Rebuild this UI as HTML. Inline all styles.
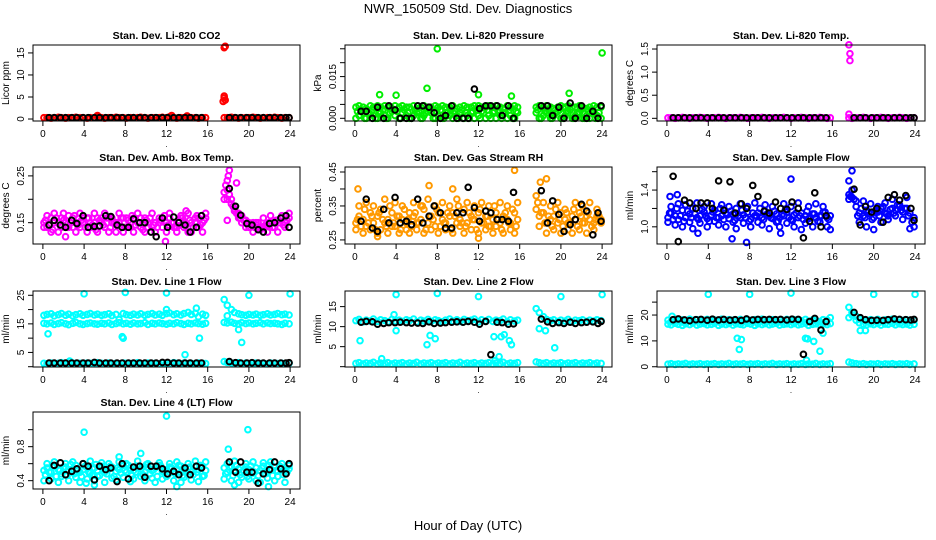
<!DOCTYPE html>
<html><head><meta charset="utf-8"><title>NWR_150509 Std. Dev. Diagnostics</title>
<style>
html,body{margin:0;padding:0;background:#fff;}
svg{display:block;font-family:"Liberation Sans",Arial,sans-serif;}
</style></head>
<body>
<svg id="chart" width="936" height="540" viewBox="0 0 936 540" xmlns="http://www.w3.org/2000/svg">
<rect x="0" y="0" width="936" height="540" fill="#fff"/>
<text x="468" y="13" font-size="13" text-anchor="middle">NWR_150509  Std. Dev. Diagnostics</text>
<text x="468" y="530" font-size="13" text-anchor="middle">Hour of Day (UTC)</text>
</svg>
<script>
// shared time arrays (hours, UTC)
const hours = [0.1,0.4,0.8,1.1,1.5,1.8,2.2,2.5,2.9,3.2,3.6,3.9,4.3,4.6,5.0,5.3,5.7,6.0,6.4,6.7,7.1,7.4,7.8,8.1,8.5,8.8,9.2,9.5,9.9,10.2,10.6,10.9,11.3,11.6,12.0,12.3,12.7,13.0,13.4,13.7,14.1,14.4,14.8,15.1,15.5,15.8,
  17.6,17.9,18.3,18.6,19.0,19.3,19.7,20.0,20.4,20.7,21.1,21.4,21.8,22.1,22.5,22.8,23.2,23.5,23.9];
const hours2 = [0.25,0.6,0.95,1.3,1.65,2.0,2.35,2.7,3.05,3.4,3.75,4.1,4.45,4.8,5.15,5.5,5.85,6.2,6.55,6.9,7.25,7.6,7.95,8.3,8.65,9.0,9.35,9.7,10.05,10.4,10.75,11.1,11.45,11.8,12.15,12.5,12.85,13.2,13.55,13.9,14.25,14.6,14.95,15.3,15.65,
  17.75,18.1,18.45,18.8,19.15,19.5,19.85,20.2,20.55,20.9,21.25,21.6,21.95,22.3,22.65,23.0,23.35,23.7];
const blackHours = [0.6,1.1,1.7,2.2,2.8,3.3,3.9,4.4,5.0,5.5,6.1,6.6,7.2,7.7,8.3,8.8,9.4,9.9,10.5,11.0,11.6,12.1,12.7,13.2,13.8,14.3,14.9,15.4,
  18.1,18.7,19.2,19.8,20.3,20.9,21.4,22.0,22.5,23.1,23.6,23.9];
const xTicks = [0,4,8,12,16,20,24];

// Panel 1: CO2
const co2A = [0.3,0.3,0.2,0.3,0.4,0.3,0.2,0.3,0.3,0.4,0.3,0.3,0.2,0.3,0.3,0.5,0.3,0.2,0.3,0.3,0.4,0.3,0.3,0.2,0.3,0.3,0.3,0.4,0.3,0.2,0.3,0.3,0.3,0.4,0.3,0.5,0.3,0.2,0.3,0.3,0.4,0.3,0.3,0.2,0.3,0.3,
  0.3,0.3,0.4,0.3,0.2,0.3,0.3,0.3,0.4,0.3,0.2,0.3,0.3,0.3,0.4,0.3,0.2,0.3,0.3];
const co2Black = [0.3,0.3,0.3,0.3,0.3,0.3,0.3,0.3,0.3,0.3,0.3,0.3,0.3,0.3,0.3,0.3,0.3,0.3,0.3,0.3,0.3,0.3,0.3,0.3,0.3,0.3,0.3,0.3,0.3,0.3,0.3,0.3,0.3,0.3,0.3,0.3,0.3,0.3,0.3,0.3];
const co2ExtraH = [17.6,17.7,17.6,17.5,17.7,17.6,5.3,12.5,14.0];
const co2ExtraV = [16.2,16.5,5.2,4.0,4.3,4.8,0.8,0.8,0.7];

// Panel 2: Pressure
const presA = [0.004,0.0045,0.004,0.0035,0.0045,0.004,0.0045,0.004,0.0045,0.004,0.0035,0.0045,0.004,0.0045,0.004,0.004,0.0045,0.0035,0.004,0.0045,0.004,0.004,0.0045,0.004,0.0045,0.004,0.004,0.0045,0.0035,0.004,0.0045,0.004,0.004,0.0045,0.0045,0.004,0.004,0.0045,0.004,0.0045,0.004,0.0035,0.0045,0.004,0.0045,0.004,
  0.004,0.0045,0.004,0.0045,0.004,0.0035,0.004,0.0045,0.004,0.0045,0.004,0.004,0.0045,0.004,0.0035,0.004,0.0045,0.004,0.004];
const presB = [0.0,0.001,0.002,0.0,0.0015,0.001,0.0,0.002,0.001,0.0,0.0025,0.001,0.0,0.002,0.001,0.0,0.001,0.002,0.0,0.001,0.0025,0.002,0.0,0.001,0.0,0.002,0.001,0.0,0.001,0.002,0.0,0.001,0.002,0.0,0.001,0.0025,0.0,0.001,0.002,0.0,0.001,0.002,0.0,0.001,0.0,0.002,
  0.002,0.0,0.001,0.002,0.0,0.001,0.0025,0.0,0.001,0.002,0.0,0.001,0.002,0.0,0.001,0.0,0.002,0.001,0.0];
const presC = [0.0025,0.003,0.0,0.002,0.003,0.0,0.0025,0.003,0.0,0.002,0.003,0.0025,0.0,0.003,0.002,0.0,0.003,0.0025,0.0,0.002,0.003,0.0,0.0025,0.003,0.0,0.002,0.003,0.0025,0.0,0.003,0.002,0.0,0.0025,0.003,0.0,0.002,0.003,0.0,0.0025,0.003,0.0,0.002,0.003,0.0,0.0025,
  0.003,0.0,0.0025,0.003,0.0,0.002,0.003,0.0,0.0025,0.003,0.0,0.002,0.003,0.0,0.0025,0.003,0.0,0.002];
const presBlack = [0.0025,0.0025,0.0,0.004,0.0,0.0045,0.003,0.0,0.0,0.0,0.0045,0.0045,0.004,0.002,0.0,0.001,0.0045,0.0,0.0,0.0,0.0105,0.0035,0.0045,0.0045,0.0045,0.001,0.0045,0.0,
  0.0045,0.0045,0.001,0.004,0.0,0.0055,0.0,0.0045,0.0,0.0025,0.0,0.0045];
const presExtraH = [8.0,24.0,7.0,2.4,4.0,12.0,15.2,20.8];
const presExtraV = [0.025,0.0235,0.0108,0.0085,0.0083,0.0085,0.008,0.009];

// Panel 3: Temp
const tempA = [0.01,0.01,0.0,0.01,0.02,0.01,0.0,0.01,0.01,0.02,0.01,0.0,0.01,0.01,0.02,0.01,0.0,0.01,0.01,0.01,0.02,0.01,0.0,0.01,0.01,0.01,0.02,0.01,0.0,0.01,0.01,0.01,0.02,0.01,0.0,0.01,0.01,0.02,0.01,0.0,0.01,0.01,0.02,0.01,0.0,0.01,
  0.01,0.0,0.01,0.01,0.02,0.01,0.0,0.01,0.01,0.02,0.01,0.0,0.01,0.01,0.02,0.01,0.0,0.01,0.01];
const tempBlack = [0.01,0.01,0.01,0.01,0.01,0.01,0.01,0.01,0.01,0.01,0.01,0.01,0.01,0.01,0.01,0.01,0.01,0.01,0.01,0.01,0.01,0.01,0.01,0.01,0.01,0.01,0.01,0.01,0.01,0.01,0.01,0.01,0.01,0.01,0.01,0.01,0.01,0.01,0.01,0.01];
const tempExtraH = [17.6,17.7,17.7,17.6];
const tempExtraV = [1.59,1.4,1.25,0.09];

// Panel 4: Amb Box Temp
const ambA = [0.15,0.14,0.16,0.15,0.13,0.16,0.15,0.14,0.16,0.15,0.14,0.15,0.16,0.14,0.15,0.16,0.15,0.14,0.16,0.15,0.13,0.15,0.16,0.14,0.15,0.16,0.15,0.14,0.16,0.15,0.14,0.15,0.16,0.14,0.15,0.16,0.15,0.14,0.16,0.15,0.13,0.15,0.16,0.14,0.15,0.16,
  0.215,0.2,0.19,0.18,0.17,0.165,0.155,0.15,0.15,0.145,0.14,0.14,0.145,0.15,0.15,0.155,0.16,0.15,0.16];
const ambB = [0.14,0.165,0.13,0.17,0.15,0.14,0.12,0.165,0.14,0.13,0.17,0.16,0.13,0.15,0.17,0.13,0.16,0.17,0.13,0.16,0.15,0.17,0.13,0.16,0.14,0.13,0.17,0.16,0.13,0.14,0.17,0.13,0.15,0.16,0.13,0.17,0.14,0.13,0.165,0.14,0.17,0.13,0.15,0.16,0.13,0.17,
  0.2,0.22,0.2,0.175,0.16,0.15,0.14,0.14,0.13,0.15,0.135,0.16,0.13,0.165,0.14,0.13,0.165,0.14,0.17];
const ambC = [0.155,0.145,0.135,0.16,0.145,0.155,0.14,0.15,0.165,0.145,0.155,0.14,0.16,0.145,0.135,0.155,0.145,0.16,0.14,0.15,0.145,0.16,0.14,0.155,0.165,0.145,0.15,0.135,0.155,0.16,0.145,0.14,0.155,0.165,0.145,0.15,0.14,0.155,0.16,0.145,0.155,0.14,0.165,0.145,0.155,
  0.23,0.21,0.185,0.17,0.16,0.155,0.15,0.145,0.14,0.15,0.14,0.145,0.15,0.14,0.155,0.15,0.145,0.155];
const ambBlack = [0.145,0.155,0.145,0.14,0.155,0.148,0.165,0.14,0.142,0.143,0.165,0.163,0.145,0.14,0.14,0.158,0.15,0.15,0.13,0.12,0.16,0.14,0.162,0.15,0.145,0.13,0.14,0.165,
  0.223,0.185,0.166,0.148,0.145,0.135,0.13,0.148,0.15,0.16,0.165,0.14];
const ambExtraH = [18.1,18.0,17.9,18.8,17.9,13.9,2.0,11.9];
const ambExtraV = [0.262,0.25,0.24,0.235,0.155,0.175,0.17,0.11];

// Panel 5: Gas Stream RH
const rhA = [0.3,0.32,0.31,0.29,0.33,0.3,0.32,0.34,0.3,0.31,0.33,0.29,0.32,0.31,0.3,0.33,0.32,0.3,0.31,0.34,0.3,0.32,0.29,0.33,0.31,0.3,0.32,0.33,0.3,0.31,0.34,0.3,0.32,0.31,0.33,0.3,0.32,0.29,0.31,0.33,0.3,0.32,0.31,0.3,0.33,0.31,
  0.34,0.32,0.33,0.3,0.31,0.32,0.3,0.33,0.31,0.3,0.32,0.31,0.33,0.3,0.32,0.31,0.3,0.32,0.31];
const rhB = [0.28,0.35,0.27,0.36,0.28,0.35,0.27,0.28,0.37,0.27,0.29,0.36,0.27,0.35,0.28,0.27,0.36,0.28,0.35,0.27,0.37,0.28,0.35,0.27,0.36,0.28,0.35,0.27,0.37,0.29,0.27,0.36,0.28,0.35,0.27,0.36,0.28,0.35,0.27,0.29,0.36,0.27,0.35,0.28,0.27,0.36,
  0.38,0.29,0.36,0.27,0.35,0.28,0.36,0.27,0.34,0.28,0.27,0.36,0.28,0.35,0.27,0.36,0.28,0.34,0.3];
const rhC = [0.31,0.29,0.34,0.3,0.32,0.28,0.33,0.31,0.29,0.35,0.3,0.32,0.28,0.34,0.31,0.29,0.33,0.3,0.35,0.28,0.32,0.31,0.34,0.29,0.3,0.33,0.28,0.32,0.35,0.3,0.29,0.33,0.31,0.28,0.34,0.3,0.32,0.29,0.35,0.31,0.28,0.33,0.3,0.34,0.29,
  0.36,0.33,0.3,0.32,0.29,0.34,0.31,0.29,0.33,0.3,0.34,0.29,0.32,0.3,0.33,0.29,0.31,0.32];
const rhBlack = [0.305,0.37,0.285,0.275,0.34,0.3,0.375,0.3,0.305,0.295,0.37,0.3,0.32,0.35,0.33,0.285,0.285,0.33,0.33,0.405,0.345,0.305,0.335,0.33,0.31,0.31,0.305,0.39,
  0.395,0.3,0.365,0.325,0.275,0.295,0.31,0.355,0.335,0.265,0.33,0.305];
const rhExtraH = [15.5,7.2,0.3,18.6,9.5,18.0,12.0,2.2];
const rhExtraV = [0.455,0.41,0.4,0.43,0.4,0.42,0.255,0.26];

// Panel 6: Sample Flow
const flowA = [1.1,1.15,1.12,1.08,1.18,1.1,1.14,1.2,1.1,1.12,1.16,1.09,1.13,1.18,1.1,1.12,1.15,1.09,1.14,1.2,1.1,1.13,1.16,1.08,1.12,1.15,1.1,1.17,1.12,1.09,1.14,1.1,1.12,1.16,1.08,1.13,1.1,1.15,1.12,1.09,1.14,1.1,1.12,1.16,1.1,1.12,
  1.3,1.32,1.28,1.15,1.12,1.18,1.14,1.1,1.16,1.2,1.15,1.12,1.2,1.18,1.22,1.16,1.2,1.15,1.1];
const flowB = [1.05,1.22,1.02,1.25,1.0,1.24,1.05,0.98,1.26,1.04,1.22,1.0,1.25,1.06,1.02,1.24,1.0,1.22,1.05,0.98,1.25,1.04,1.22,1.0,1.26,1.05,1.02,1.24,0.98,1.22,1.05,1.0,1.25,1.04,1.22,1.0,1.26,0.97,1.04,1.22,1.0,1.25,1.05,1.22,1.0,0.97,
  1.35,1.4,1.22,1.05,1.28,1.0,1.25,0.97,1.22,1.05,1.26,1.08,1.3,1.12,1.24,1.08,1.32,0.98,1.0];
const flowC = [1.15,1.08,1.2,1.12,1.06,1.17,1.1,1.14,1.08,1.19,1.12,1.06,1.16,1.1,1.2,1.08,1.13,1.17,1.07,1.12,1.18,1.1,1.06,1.15,1.12,1.2,1.08,1.14,1.1,1.17,1.06,1.13,1.18,1.1,1.07,1.15,1.12,1.08,1.17,1.1,1.14,1.06,1.12,1.16,1.08,
  1.33,1.3,1.12,1.2,1.1,1.16,1.08,1.18,1.12,1.22,1.14,1.19,1.15,1.24,1.18,1.2,1.12,1.05];
const flowBlack = [1.55,0.84,1.29,1.26,1.2,1.26,1.26,1.2,1.5,1.18,1.49,1.15,1.25,1.2,1.45,1.33,1.17,1.15,1.27,1.2,1.19,1.27,1.2,0.88,1.06,1.37,1.0,1.12,
  1.41,1.02,1.22,1.16,1.2,1.05,1.32,1.35,1.29,1.34,1.2,1.07];
const flowExtraH = [17.9,17.6,12.0,7.7,6.3,3.0,11.0,0.3,1.0];
const flowExtraV = [1.61,1.5,1.52,0.83,0.87,0.93,0.93,1.33,1.35];

// Panel 7: Line 1 Flow
const l1A = [18,18.3,18.5,17.8,18.2,18.6,18,18.4,17.8,18.2,18.5,18,18.3,18.6,18.1,18.4,18,18.2,18.5,17.9,18.3,16.5,18.6,18.2,18,18.4,18.1,18.5,18,18.3,18.6,18.1,18.4,18,18.6,18.8,18.2,18.5,18.1,18.6,19,18.3,18.7,17.5,18.4,18,
  23.5,21.5,20,19,18.5,18.2,18,18.3,18.1,18.4,18,18.2,18.5,18.1,18.3,18.6,18.2,18.4,18.1];
const l1B = [15.2,15,15.3,14.8,15.1,15.4,15,14.7,15.2,15.5,15,14.8,15.1,15.3,15,14.9,15.2,15,15.3,14.8,15.1,15.4,15,15.2,14.9,15.3,15,15.1,15.4,14.8,15.2,15,15.3,15.1,14.9,15.2,15,15.4,15.1,14.8,15.2,15,15.3,15.1,14.9,15.2,
  15.5,15.3,15.6,15.2,15,15.4,15.1,15.3,15,15.2,15.4,15,15.3,15.1,15.2,15,14.8,15.2,15];
const l1C = [1.2,1.0,1.3,1.1,1.2,1.4,1.0,1.2,1.3,1.1,1.2,1.0,1.3,1.2,1.1,1.4,1.2,1.0,1.3,1.1,1.2,1.0,1.3,1.2,1.1,1.2,1.4,1.0,1.2,1.3,1.1,1.2,1.0,1.3,1.2,1.1,1.4,1.2,1.0,1.3,1.1,1.2,1.0,1.3,1.2,1.1,
  1.8,1.5,1.3,1.2,1.4,1.1,1.3,1.0,1.2,1.3,1.1,1.2,1.0,1.3,1.2,1.1,1.2,1.0,1.2];
const l1Black = [1.3,1.3,1.3,1.3,1.3,1.3,1.3,1.3,1.5,1.3,1.3,1.3,1.3,1.3,1.3,1.3,1.3,1.3,1.3,1.3,1.5,1.5,1.3,1.3,1.3,1.3,1.3,1.3,
  1.8,1.4,1.3,1.3,1.4,1.3,1.3,1.3,1.3,1.3,1.3,1.4];
const l1ExtraH = [4.0,8.0,12.0,20.0,24.0,0.5,7.7,7.8,15.2,13.8,19.3,19.0,2.6,17.9,12.0,14.9];
const l1ExtraV = [25.5,26,25.8,25,25.5,11.5,10.5,10,10,4.2,8.5,13,2,17.8,20,20.5];

// Panel 8: Line 2 Flow
const l2A = [11.5,11.8,11.2,11.6,11.4,11.9,11.3,11.7,11.5,11.2,11.8,11.4,11.6,11.3,11.7,11.5,11.9,11.2,11.6,11.4,11.8,11.3,11.7,11.5,11.2,11.6,11.9,11.4,11.7,11.3,11.8,11.5,11.6,11.9,11.2,11.7,11.4,11.8,11.3,11.6,11.5,11.9,11.2,11.7,11.4,11.6,
  14.5,13.5,12.5,11.8,11.5,11.7,11.3,11.6,11.4,11.8,11.2,11.6,11.5,11.7,11.3,11.6,11.4,11.7,11.5];
const l2C = [0.8,1.0,0.7,0.9,0.8,1.1,0.7,0.9,0.8,1.0,0.7,0.9,0.8,1.0,0.7,0.9,0.8,1.1,0.7,0.9,0.8,1.0,0.7,0.9,0.8,1.0,0.7,0.9,0.8,1.1,0.7,0.9,0.8,1.0,0.7,0.9,0.8,1.0,0.7,0.9,0.8,1.1,0.7,0.9,0.8,1.0,
  1.2,1.0,0.8,1.0,0.7,0.9,0.8,1.0,0.7,0.9,0.8,1.0,0.7,0.9,0.8,1.0,0.7,0.9,0.8];
const l2Black = [11.1,11.3,11.2,10.6,10.8,11.0,11.0,11.1,11.0,10.9,10.9,10.8,11.2,10.8,10.9,11.0,11.1,11.2,11.1,11.3,11.1,10.6,11.3,3.0,11.1,11.0,10.6,10.7,
  11.9,11.2,10.8,11.0,10.8,11.1,10.8,11.0,11.1,11.2,10.8,11.3];
const l2ExtraH = [4.0,8.0,12.0,20.0,24.0,0.5,4.0,7.0,7.3,7.8,13.5,14.0,14.2,14.5,15.0,15.2,2.6,17.9,18.5,19.4,13.6,3.8];
const l2ExtraV = [18,18.3,17.5,17.5,18,6.5,9,5.5,7.8,7,7.5,2.5,7.5,8,6.5,5.5,2,9.5,9,4.7,1.5,13];

// Panel 9: Line 3 Flow
const l3A = [16.5,16.2,16.8,16.4,16,16.6,16.3,16.9,16.1,16.5,16.7,16.2,16.4,16.8,16,16.5,16.3,16.7,16.1,16.6,16.4,16.2,16.8,16.5,16,16.6,16.3,16.7,16.2,16.5,16.8,16.1,16.4,16.6,16.3,16.7,16.2,16.5,16.8,16,16.4,16.6,16.2,16.5,16.3,16.7,
  23,20,18,17,16.5,16.2,16.6,16.3,16.7,16.1,16.5,16.4,16.8,16.2,16.6,16.3,16.5,16.1,16.4];
const l3B = [18,17.5,18.3,17.8,18.1,17.6,18.4,17.9,18.2,17.7,18,18.3,17.6,18.1,17.9,18.4,17.7,18.2,18,17.8,18.3,17.6,18.1,17.9,18.2,17.7,18.4,18,17.8,18.2,17.6,18.1,17.9,18.3,17.7,18.2,18,17.8,18.3,17.6,18.1,17.9,17.5,18.2,18,19,
  19,21,19.5,18.5,18,17.8,18.2,17.9,18.3,17.7,18.1,18,18.4,17.8,18.2,17.9,18.1,17.8,18];
const l3C = [1.0,1.2,0.9,1.1,1.0,1.3,0.9,1.1,1.0,1.2,0.9,1.1,1.0,1.2,0.9,1.1,1.0,1.3,0.9,1.1,1.0,1.2,0.9,1.1,1.0,1.2,0.9,1.1,1.0,1.3,0.9,1.1,1.0,1.2,0.9,1.1,1.0,1.2,0.9,1.1,1.0,1.3,0.9,1.1,1.0,1.2,
  1.8,1.5,1.2,1.0,1.2,0.9,1.1,1.0,1.2,0.9,1.1,1.0,1.2,0.9,1.1,1.0,1.2,0.9,1.1];
const l3Black = [18.2,18.5,18.1,17.8,18.2,18.3,18.0,18.4,18.1,18.3,18.0,18.2,17.9,18.5,18.1,18.3,18.2,18.3,18.2,18.3,18.1,18.4,18.3,4.8,17.5,18.7,14.2,17.5,
  21.0,19.0,18.2,17.9,18.0,17.9,18.2,18.5,18.3,18.2,18.1,18.3];
const l3ExtraH = [4.0,8.0,12.0,20.0,24.0,6.8,7.0,7.2,13.4,13.6,14.2,14.8,15.1,13.5,18.7,19.2,0.5];
const l3ExtraV = [28,28,28.5,28,28,11,6.7,10.5,11,10.8,9.8,6,13,2.5,14,14,19.5];

// Panel 10: Line 4 (LT) Flow
const l4A = [0.52,0.55,0.5,0.57,0.53,0.48,0.56,0.51,0.54,0.58,0.5,0.53,0.56,0.49,0.55,0.52,0.57,0.5,0.54,0.56,0.51,0.53,0.58,0.5,0.55,0.52,0.57,0.54,0.5,0.56,0.52,0.55,0.58,0.51,0.53,0.56,0.5,0.54,0.57,0.52,0.55,0.5,0.56,0.53,0.57,0.52,
  0.55,0.5,0.57,0.52,0.54,0.5,0.56,0.53,0.49,0.55,0.52,0.57,0.5,0.54,0.56,0.51,0.55,0.52,0.54];
const l4B = [0.4,0.6,0.42,0.62,0.38,0.45,0.6,0.4,0.62,0.44,0.38,0.6,0.42,0.63,0.4,0.45,0.61,0.38,0.6,0.43,0.41,0.62,0.44,0.6,0.39,0.42,0.63,0.45,0.4,0.6,0.43,0.38,0.61,0.42,0.45,0.6,0.4,0.62,0.38,0.44,0.6,0.41,0.63,0.39,0.45,0.62,
  0.42,0.6,0.4,0.63,0.38,0.44,0.6,0.42,0.62,0.4,0.38,0.61,0.43,0.62,0.4,0.45,0.6,0.38,0.58];
const l4C = [0.47,0.5,0.58,0.45,0.52,0.56,0.46,0.59,0.48,0.52,0.45,0.57,0.5,0.47,0.59,0.46,0.53,0.48,0.57,0.45,0.55,0.49,0.52,0.58,0.46,0.5,0.56,0.47,0.59,0.48,0.53,0.45,0.57,0.5,0.47,0.55,0.48,0.58,0.46,0.52,0.56,0.47,0.5,0.58,0.46,
  0.48,0.56,0.46,0.58,0.47,0.52,0.45,0.57,0.5,0.46,0.55,0.48,0.58,0.46,0.52,0.57,0.47,0.5];
const l4Black = [0.4,0.58,0.61,0.47,0.51,0.54,0.6,0.57,0.41,0.57,0.53,0.55,0.39,0.6,0.42,0.56,0.57,0.44,0.57,0.57,0.54,0.48,0.51,0.47,0.55,0.47,0.57,0.55,
  0.62,0.5,0.62,0.5,0.5,0.37,0.48,0.53,0.62,0.54,0.48,0.6];
const l4ExtraH = [4.0,12.0,19.9,18.0,7.4,9.5,13.0,21.9,18.6,4.2,5.0];
const l4ExtraV = [0.97,1.16,1.0,0.77,0.68,0.72,0.33,0.33,0.35,0.37,0.35];

const svg = document.getElementById('chart');
const NS = 'http://www.w3.org/2000/svg';
const colBox = [[33,300],[345,612],[657,925]];
const rowBox = [[45,121],[167,244],[291,367],[412,489]];

const panels = [
  {name:'co2', title:'Stan. Dev. Li-820 CO2', ylab:'Licor ppm', col:0,row:0, dom:[-0.45,16.8], ticks:[0,5,10,15], labels:['0','5','10','15'], color:'#ff0000', series:[co2A], series2:[], black:co2Black, exH:co2ExtraH, exV:co2ExtraV},
  {name:'pressure', title:'Stan. Dev. Li-820 Pressure', ylab:'kPa', col:1,row:0, dom:[-0.00097,0.02636], ticks:[0,0.005,0.01,0.015,0.02,0.025], labels:['0.000','','','0.015','',''], color:'#00ee00', series:[presA,presB], series2:[presC], black:presBlack, exH:presExtraH, exV:presExtraV},
  {name:'temp', title:'Stan. Dev. Li-820 Temp.', ylab:'degrees C', col:2,row:0, dom:[-0.058,1.587], ticks:[0,0.5,1,1.5], labels:['0.0','0.5','1.0','1.5'], color:'#ff00ff', series:[tempA], series2:[], black:tempBlack, exH:tempExtraH, exV:tempExtraV},
  {name:'amb-box-temp', title:'Stan. Dev. Amb. Box Temp.', ylab:'degrees C', col:0,row:1, dom:[0.1044,0.269], ticks:[0.15,0.2,0.25], labels:['0.15','','0.25'], color:'#ff00ff', series:[ambA,ambB], series2:[ambC], black:ambBlack, exH:ambExtraH, exV:ambExtraV},
  {name:'gas-stream-rh', title:'Stan. Dev. Gas Stream RH', ylab:'percent', col:1,row:1, dom:[0.238,0.4647], ticks:[0.25,0.3,0.35,0.4,0.45], labels:['0.25','','0.35','','0.45'], color:'#ff9900', series:[rhA,rhB], series2:[rhC], black:rhBlack, exH:rhExtraH, exV:rhExtraV},
  {name:'sample-flow', title:'Stan. Dev. Sample Flow', ylab:'ml/min', col:2,row:1, dom:[0.813,1.651], ticks:[1.0,1.2,1.4,1.6], labels:['1.0','','1.4',''], color:'#0000ff', series:[flowA,flowB], series2:[flowC], black:flowBlack, exH:flowExtraH, exV:flowExtraV},
  {name:'line1-flow', title:'Stan. Dev. Line 1 Flow', ylab:'ml/min', col:0,row:2, dom:[-0.1,26.5], ticks:[0,5,10,15,20,25], labels:['','5','','15','','25'], color:'#00ffff', series:[l1A,l1B,l1C], series2:[], black:l1Black, exH:l1ExtraH, exV:l1ExtraV},
  {name:'line2-flow', title:'Stan. Dev. Line 2 Flow', ylab:'ml/min', col:1,row:2, dom:[-0.08,18.9], ticks:[0,5,10,15], labels:['','5','10','15'], color:'#00ffff', series:[l2A,l2C], series2:[], black:l2Black, exH:l2ExtraH, exV:l2ExtraV},
  {name:'line3-flow', title:'Stan. Dev. Line 3 Flow', ylab:'ml/min', col:2,row:2, dom:[-0.1,29.3], ticks:[0,10,20,25], labels:['0','10','20',''], color:'#00ffff', series:[l3A,l3B,l3C], series2:[], black:l3Black, exH:l3ExtraH, exV:l3ExtraV},
  {name:'line4-flow', title:'Stan. Dev. Line 4 (LT) Flow', ylab:'ml/min', col:0,row:3, dom:[0.302,1.208], ticks:[0.4,0.6,0.8,1.0], labels:['0.4','','0.8',''], color:'#00ffff', series:[l4A,l4B], series2:[l4C], black:l4Black, exH:l4ExtraH, exV:l4ExtraV}
];

function mk(tag, attrs, parent){
  const e = document.createElementNS(NS, tag);
  for (const k in attrs) e.setAttribute(k, attrs[k]);
  (parent||svg).appendChild(e);
  return e;
}

const R = 2.8;
panels.forEach(p => {
  const [x0,x1] = colBox[p.col];
  const [y0,y1] = rowBox[p.row];
  const xs = h => x0 + (h + 0.96) / 25.92 * (x1 - x0);
  const ys = v => y1 - (v - p.dom[0]) / (p.dom[1] - p.dom[0]) * (y1 - y0);
  const g = mk('g', {});
  
  

  const t = mk('text', {x:(x0+x1)/2, y:y0-6, 'font-size':'10.5', 'font-weight':'bold', 'text-anchor':'middle'}, g);
  t.textContent = p.title;
  
  

  const yl = mk('text', {x:0, y:0, 'font-size':'10', 'text-anchor':'middle', transform:`translate(${x0-24},${(y0+y1)/2}) rotate(-90)`}, g);
  yl.textContent = p.ylab;
  
  

  const pts = mk('g', {fill:'none', 'stroke-width':'2'}, g);
  
  
  const drawSet = (times, arr) => {
    times.forEach((h,i) => {
      if (arr[i] === undefined) return;
      const c = mk('circle', {cx:xs(h), cy:ys(arr[i]), r:R, stroke:p.color}, pts);
      
      
    });
  };
  p.series.forEach(arr => drawSet(hours, arr));
  p.series2.forEach(arr => drawSet(hours2, arr));
  p.exH.forEach((h,i) => {
    const c = mk('circle', {cx:xs(h), cy:ys(p.exV[i]), r:R, stroke:p.color}, pts);
    
    
  });
  blackHours.forEach((h,i) => {
    if (p.black[i] === undefined) return;
    const c = mk('circle', {cx:xs(h), cy:ys(p.black[i]), r:R, stroke:'#000'}, pts);
    
    
  });

  const box = mk('rect', {x:x0, y:y0, width:x1-x0, height:y1-y0, fill:'none', stroke:'#000', 'stroke-width':'1'}, g);
  
  

  xTicks.forEach(v => {
    mk('line', {x1:xs(v), x2:xs(v), y1:y1, y2:y1+5, stroke:'#000'}, g);
    const tl = mk('text', {x:xs(v), y:y1+16, 'font-size':'10', 'text-anchor':'middle'}, g);
    tl.textContent = v;
    
    
  });
  p.ticks.forEach((v,i) => {
    mk('line', {x1:x0-5, x2:x0, y1:ys(v), y2:ys(v), stroke:'#000'}, g);
    if (p.labels[i]) {
      const tl = mk('text', {x:0, y:0, 'font-size':'10', 'text-anchor':'middle', transform:`translate(${x0-9},${ys(v)}) rotate(-90)`}, g);
      tl.textContent = p.labels[i];
      
      
    }
  });
  const dot = mk('text', {x:(x0+x1)/2, y:y1+26, 'font-size':'8', 'text-anchor':'middle'}, g);
  dot.textContent = '.';
});
</script>
</body></html>
